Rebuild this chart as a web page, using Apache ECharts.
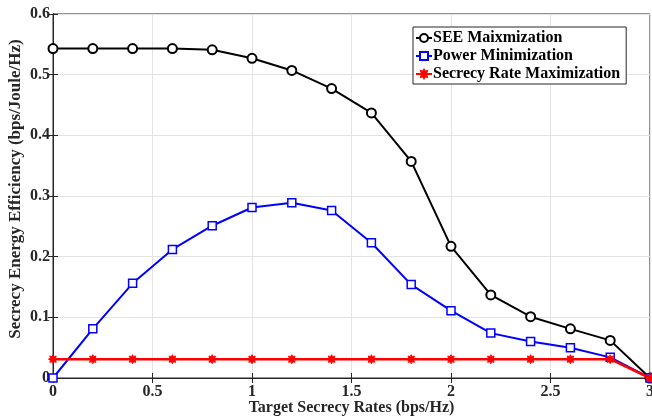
<!DOCTYPE html>
<html><head><meta charset="utf-8">
<script src="https://cdn.jsdelivr.net/npm/echarts@6/dist/echarts.min.js"></script>
<style>html,body{margin:0;padding:0;background:#fff}#c{width:652px;height:418px}</style>
</head><body><div id="c"></div>
<script>
const xValues = [0, 0.2, 0.4, 0.6, 0.8, 1.0, 1.2, 1.4, 1.6, 1.8, 2.0, 2.2, 2.4, 2.6, 2.8, 3.0];
const seeMax = [0.543, 0.543, 0.543, 0.543, 0.541, 0.527, 0.507, 0.477, 0.437, 0.357, 0.217, 0.137, 0.101, 0.081, 0.062, 0.0];
const powerMin = [0.0, 0.081, 0.156, 0.212, 0.251, 0.281, 0.289, 0.276, 0.223, 0.154, 0.111, 0.074, 0.060, 0.050, 0.034, 0.0];
const rateMax = [0.031, 0.031, 0.031, 0.031, 0.031, 0.031, 0.031, 0.031, 0.031, 0.031, 0.031, 0.031, 0.031, 0.031, 0.031, 0.0];
const seriesNames = ['SEE Maixmization', 'Power Minimization', 'Secrecy Rate Maximization'];

function starPath(){
  let pts = [];
  for (let i = 0; i < 16; i++) {
    const a = Math.PI * 2 * i / 16 - Math.PI / 2;
    const r = (i % 2 === 0) ? 10 : 6;
    pts.push((10 + r * Math.cos(a)).toFixed(2) + ',' + (10 + r * Math.sin(a)).toFixed(2));
  }
  return 'path://M' + pts.join('L') + 'Z';
}
const pair = (ys) => xValues.map((x, i) => [x, ys[i]]);
const font = '"Liberation Serif", "Times New Roman", serif';
const dark = '#262626';

const chart = echarts.init(document.getElementById('c'));
chart.setOption({
  animation: false,
  grid: { left: 53, right: 2, top: 14, bottom: 40, show: true, borderColor: dark, borderWidth: 1,
          containLabel: false, outerBoundsMode: 'none' },
  legend: {
    orient: 'vertical', left: 413, top: 27,
    backgroundColor: '#fff', borderColor: dark, borderWidth: 1,
    padding: [3, 6, 2, 2], itemGap: 2, itemWidth: 16, itemHeight: 10,
    textStyle: { fontFamily: font, fontWeight: 'bold', fontSize: 16, color: '#000', padding: [0, 0, 0, -4] },
    data: seriesNames
  },
  xAxis: [{
    type: 'value', min: 0, max: 3, interval: 0.5,
    name: 'Target Secrecy Rates (bps/Hz)', nameLocation: 'middle', nameGap: 22, nameMoveOverlap: false,
    nameTextStyle: { fontFamily: font, fontWeight: 'bold', fontSize: 16, color: dark },
    axisLine: { show: true, lineStyle: { color: dark } },
    axisTick: { show: true, inside: true, length: 5, lineStyle: { color: dark } },
    axisLabel: { fontFamily: font, fontWeight: 'bold', fontSize: 16, color: dark, margin: 6,
      formatter: v => String(v) },
    splitLine: { show: true, lineStyle: { color: '#e3e3e3' } }
  }, {
    type: 'value', min: 0, max: 3, interval: 0.5, position: 'top',
    axisLine: { show: true, lineStyle: { color: dark } },
    axisTick: { show: true, inside: true, length: 5, lineStyle: { color: dark } },
    axisLabel: { show: false }, splitLine: { show: false }
  }],
  yAxis: [{
    type: 'value', min: 0, max: 0.6, interval: 0.1,
    name: 'Secrecy Energy Efficiency (bps/Joule/Hz)', nameLocation: 'middle', nameGap: 29, nameMoveOverlap: false,
    nameTextStyle: { fontFamily: font, fontWeight: 'bold', fontSize: 17, color: dark, padding: [0, 0, 0, 14] },
    axisLine: { show: true, lineStyle: { color: dark } },
    axisTick: { show: true, inside: true, length: 5, lineStyle: { color: dark } },
    axisLabel: { fontFamily: font, fontWeight: 'bold', fontSize: 16, color: dark, margin: 3,
      formatter: v => v === 0 ? '0' : v.toFixed(1) },
    splitLine: { show: true, lineStyle: { color: '#e3e3e3' } }
  }, {
    type: 'value', min: 0, max: 0.6, interval: 0.1, position: 'right',
    axisLine: { show: true, lineStyle: { color: dark } },
    axisTick: { show: true, inside: true, length: 5, lineStyle: { color: dark } },
    axisLabel: { show: false }, splitLine: { show: false }
  }],
  series: [{
    name: seriesNames[0], type: 'line', data: pair(seeMax),
    symbol: 'circle', symbolSize: 9,
    lineStyle: { color: '#000', width: 2 },
    itemStyle: { color: '#fff', borderColor: '#000', borderWidth: 2 },
    z: 3
  }, {
    name: seriesNames[1], type: 'line', data: pair(powerMin),
    symbol: 'rect', symbolSize: 8,
    lineStyle: { color: '#0000ff', width: 2 },
    itemStyle: { color: '#fff', borderColor: '#0000ff', borderWidth: 1.5 },
    z: 4
  }, {
    name: seriesNames[2], type: 'line', data: pair(rateMax),
    symbol: starPath(), symbolSize: 9,
    lineStyle: { color: '#ff0000', width: 2.5 },
    itemStyle: { color: '#ff0000', borderColor: '#ff0000', borderWidth: 1 },
    z: 5
  }]
});
</script>
</body></html>
